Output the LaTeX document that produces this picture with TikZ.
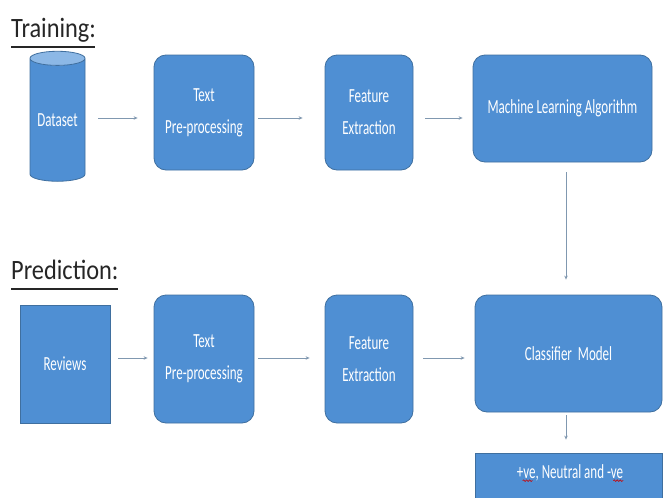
\documentclass[tikz,border=0pt]{standalone}
\usepackage{fontspec}
\setmainfont{Carlito}
\newfontfamily\boxfont[FakeStretch=0.65]{Carlito}
\newfontfamily\lblfont[FakeStretch=0.87]{Carlito}
\usetikzlibrary{shapes.geometric,arrows.meta,decorations.pathmorphing}
\definecolor{boxfill}{HTML}{4F8FD3}
\definecolor{boxedge}{HTML}{3F6F9F}
\definecolor{topfill}{HTML}{8CB8E6}
\definecolor{arrcol}{HTML}{8098B0}
\tikzset{
  boxtext/.style={text=white, font=\boxfont\fontsize{20}{24}\selectfont},
  box/.style={draw=boxedge, line width=0.8pt, fill=boxfill, rounded corners=12pt, boxtext,
    align=center, inner sep=0pt},
  sqbox/.style={box, rounded corners=0pt},
  arr/.style={draw=arrcol, line width=0.7pt, -{Stealth[length=4pt,width=3.5pt]}},
  lbl/.style={font=\lblfont\fontsize{28}{32}\selectfont, text=black!85, inner sep=0pt, anchor=base west},
  uline/.style={line width=1.6pt, black!85},
  squig/.style={red!80!black, line width=0.6pt, decorate, decoration={snake, amplitude=0.8pt, segment length=3pt}}
}
\begin{document}
\begin{tikzpicture}[x=1pt,y=1pt]
\useasboundingbox (0,0) rectangle (667,-498);
\fill[white] (0,0) rectangle (667,-498);
\clip (0,0) rectangle (667,-498);
% labels
\node[lbl] (train) at (11,-37) {Training:};
\draw[uline] (train.base west) ++(0,-10) -- ++(84,0);
\node[lbl] (pred) at (11,-279) {Prediction:};
\draw[uline] (pred.base west) ++(0,-10) -- ++(107,0);
% training row
\node[cylinder, shape border rotate=90, draw=boxedge, line width=0.8pt, aspect=0.35,
  minimum width=55, minimum height=130, cylinder uses custom fill,
  cylinder body fill=boxfill, cylinder end fill=topfill, boxtext, inner sep=0pt] (dataset) at (57.5,-120) {Dataset};
\node[box, minimum width=100, minimum height=115] (tp1) at (204,-112.5) {Text\\[8pt]Pre-processing};
\node[box, minimum width=88, minimum height=115] (fe1) at (369,-112.5) {Feature\\[8pt]Extraction};
\node[box, minimum width=179, minimum height=107] (ml) at (562.5,-108.5) {Machine Learning Algorithm};
% prediction row
\node[sqbox, minimum width=90, minimum height=118] (rev) at (65,-364) {Reviews};
\node[box, minimum width=100, minimum height=128] (tp2) at (204,-359) {Text\\[8pt]Pre-processing};
\node[box, minimum width=88, minimum height=128] (fe2) at (369,-359) {Feature\\[8pt]Extraction};
\node[box, minimum width=187, minimum height=117] (cm) at (568.5,-353.5) {Classifier\ \ Model};
\node[sqbox, minimum width=187, minimum height=52] (out) at (568.5,-479) {};
\node[boxtext, inner sep=0pt] (outtxt) at (570,-473) {+ve, Neutral and -ve};
\draw[squig] ([xshift=6pt,yshift=-2pt]outtxt.base west) -- ++(10,0);
\draw[squig] ([xshift=-10pt,yshift=-2pt]outtxt.base east) -- ++(10,0);
% rows for arrows
\coordinate (r1) at (0,-118);
\coordinate (r2) at (0,-358);
\coordinate (vx) at (566,0);
\draw[arr, shorten <=13pt, shorten >=16pt] (dataset.east |- r1) -- (tp1.west |- r1);
\draw[arr, shorten <=4pt, shorten >=22pt] (tp1.east |- r1) -- (fe1.west |- r1);
\draw[arr, shorten <=12pt, shorten >=10pt] (fe1.east |- r1) -- (ml.west |- r1);
\draw[arr, shorten <=8pt, shorten >=6pt] (rev.east |- r2) -- (tp2.west |- r2);
\draw[arr, shorten <=4pt, shorten >=15pt] (tp2.east |- r2) -- (fe2.west |- r2);
\draw[arr, shorten <=10pt, shorten >=10pt] (fe2.east |- r2) -- (cm.west |- r2);
\draw[arr, shorten <=10pt, shorten >=15pt] (ml.south -| vx) -- (cm.north -| vx);
\draw[arr, shorten <=3pt, shorten >=13pt] (cm.south -| vx) -- (out.north -| vx);
\end{tikzpicture}
\end{document}
